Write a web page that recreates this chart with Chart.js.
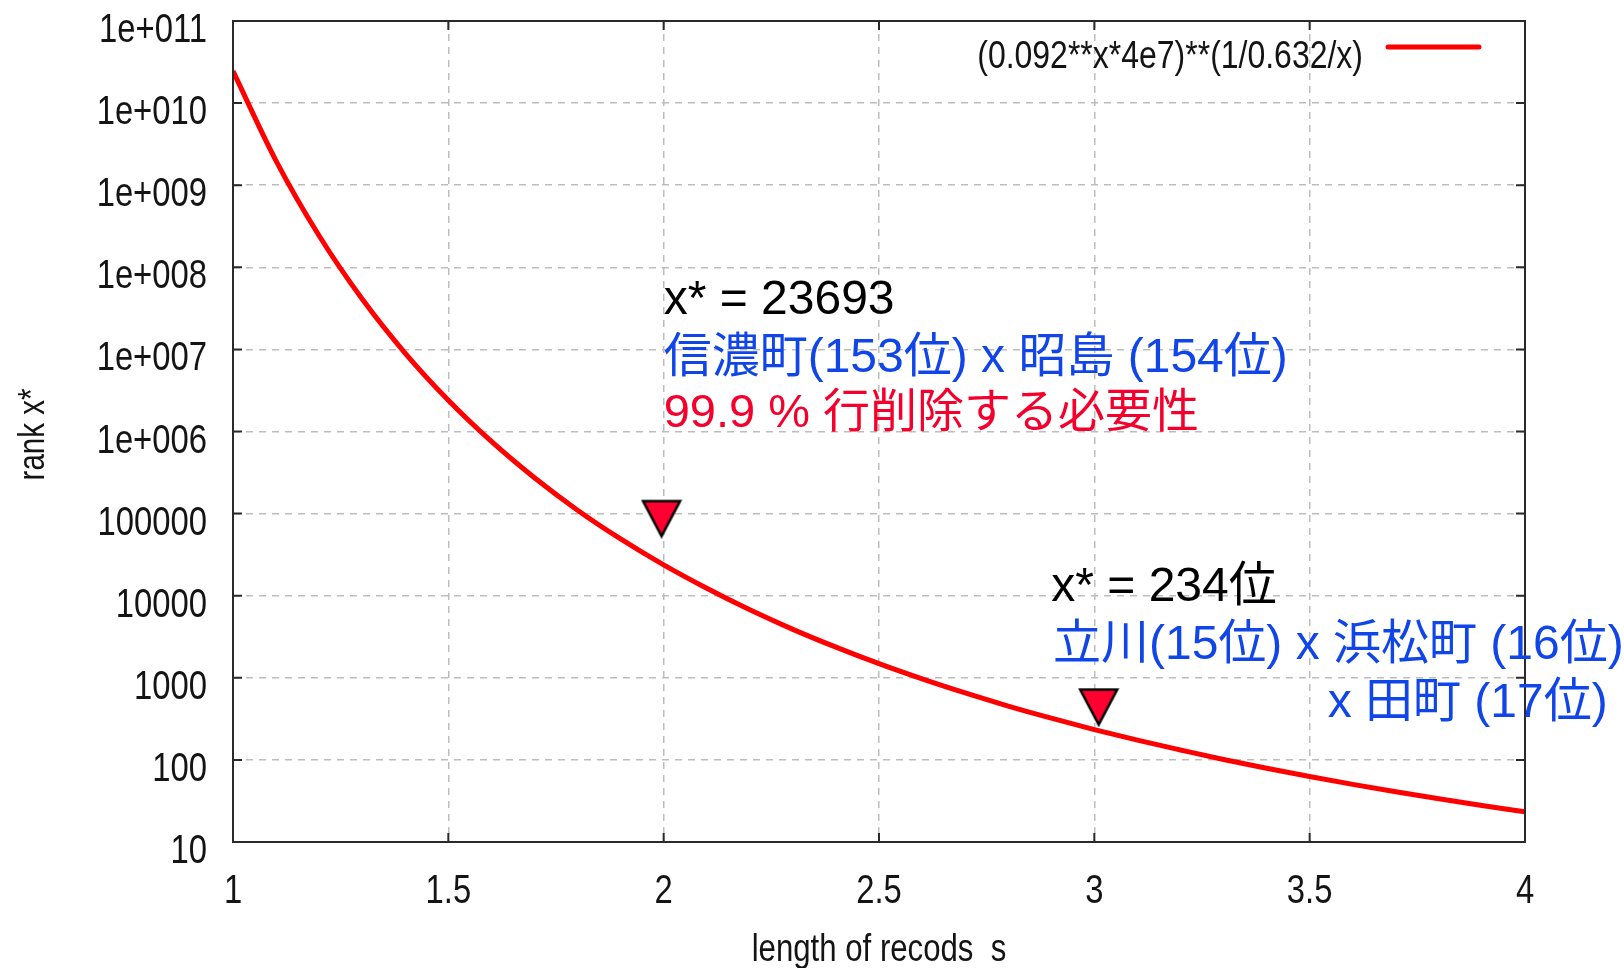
<!DOCTYPE html>
<html>
<head>
<meta charset="utf-8">
<script src="https://cdn.jsdelivr.net/npm/chart.js@4.4.1/dist/chart.umd.min.js"></script>
<style>
  html, body { margin: 0; padding: 0; background: #ffffff; }
  #wrap { width: 1624px; height: 968px; }
</style>
</head>
<body>
<div id="wrap"><canvas id="c" width="1624" height="968"></canvas></div>
<script>
// ---- data ----
const xValues = [1.0, 1.1, 1.2, 1.3, 1.4, 1.5, 1.6, 1.7, 1.8, 1.9,
                 2.0, 2.1, 2.2, 2.3, 2.4, 2.5, 2.6, 2.7, 2.8, 2.9,
                 3.0, 3.1, 3.2, 3.3, 3.4, 3.5, 3.6, 3.7, 3.8, 3.9, 4.0];
const rankValues = [2.45e10, 1.98e9, 2.42e8, 4.1e7, 8.96e6, 2.40e6, 7.56e5, 2.73e5, 1.10e5, 4.91e4,
                    2.37e4, 1.23e4, 6730, 3890, 2360, 1485, 970, 654, 453, 322,
                    234, 174, 132, 101, 79, 62.7, 50.3, 40.9, 33.6, 27.8, 23.3];
const markerX = [1.995, 3.01];
const markerY = [8.7e4, 440];
const seriesLabel = '(0.092**x*4e7)**(1/0.632/x)';
const xTickValues = [1, 1.5, 2, 2.5, 3, 3.5, 4];
const xTickLabels = ['1', '1.5', '2', '2.5', '3', '3.5', '4'];
const yTickValues = [10, 100, 1000, 10000, 100000, 1e6, 1e7, 1e8, 1e9, 1e10, 1e11];
const yTickLabels = ['10', '100', '1000', '10000', '100000', '1e+006', '1e+007', '1e+008', '1e+009', '1e+010', '1e+011'];
const xTitle = 'length of recods  s';
const yTitle = 'rank x*';
const noteTexts = [
  'x* = 23693',
  '信濃町(153位) x 昭島 (154位)',
  '99.9 % 行削除する必要性',
  'x* = 234位',
  '立川(15位) x 浜松町 (16位)',
  'x 田町 (17位)'
];

// ---- placement / styling ----
const notePlacement = [
  { x: 2.0,   y: 2.73e7, align: 'left',  color: '#000000', size: 48 },
  { x: 2.0,   y: 5.37e6, align: 'left',  color: '#1045e8', size: 48 },
  { x: 2.0,   y: 1.12e6, align: 'left',  color: '#f5002d', size: 47 },
  { x: 2.9,   y: 8560,   align: 'left',  color: '#000000', size: 48 },
  { x: 2.904, y: 1684,   align: 'left',  color: '#1045e8', size: 48 },
  { x: 4.192, y: 335,    align: 'right', color: '#1045e8', size: 48 }
];
const GP_FONT = "'Liberation Sans', Arial, sans-serif";
const SQUEEZE = 0.82;   // narrow look of the plot's own lettering
const NOTE_FAMILY = "'Liberation Sans', 'Noto Sans CJK JP', sans-serif";

function narrowText(ctx, text, x, y, size, align, rot) {
  ctx.save();
  ctx.translate(x, y);
  if (rot) ctx.rotate(rot);
  ctx.scale(SQUEEZE, 1);
  ctx.font = size + 'px ' + GP_FONT;
  ctx.textAlign = align;
  ctx.textBaseline = 'alphabetic';
  ctx.fillText(text, 0, 0);
  ctx.restore();
}

// triangle marker image
const tri = document.createElement('canvas');
tri.width = 42; tri.height = 40;
(function () {
  const g = tri.getContext('2d');
  g.beginPath();
  g.moveTo(2.5, 2.5); g.lineTo(39.5, 2.5); g.lineTo(21, 37.5); g.closePath();
  g.fillStyle = '#ff0030';
  g.fill();
  g.lineWidth = 2.5;
  g.strokeStyle = '#000000';
  g.stroke();
})();

const framePlugin = {
  id: 'frame',
  afterDatasetsDraw(chart) {
    const { ctx, chartArea: a, scales } = chart;
    ctx.save();
    ctx.strokeStyle = '#2a2a2a';
    ctx.lineWidth = 2;
    ctx.strokeRect(a.left, a.top, a.right - a.left, a.bottom - a.top);
    ctx.beginPath();
    const tl = 9;
    yTickValues.forEach(v => {
      const y = scales.y.getPixelForValue(v);
      ctx.moveTo(a.left, y); ctx.lineTo(a.left + tl, y);
      ctx.moveTo(a.right, y); ctx.lineTo(a.right - tl, y);
    });
    xTickValues.forEach(v => {
      const x = scales.x.getPixelForValue(v);
      ctx.moveTo(x, a.bottom); ctx.lineTo(x, a.bottom - tl);
      ctx.moveTo(x, a.top); ctx.lineTo(x, a.top + tl);
    });
    ctx.stroke();
    ctx.restore();
  },
  afterDraw(chart) {
    const { ctx, scales, chartArea: a } = chart;
    ctx.save();
    ctx.fillStyle = '#141414';
    // tick labels, placed through the scales
    yTickValues.forEach((v, i) => {
      narrowText(ctx, yTickLabels[i], a.left - 26, scales.y.getPixelForValue(v) + 21, 40, 'right');
    });
    xTickValues.forEach((v, i) => {
      narrowText(ctx, xTickLabels[i], scales.x.getPixelForValue(v), a.bottom + 61, 40, 'center');
    });
    // axis titles
    narrowText(ctx, xTitle, (a.left + a.right) / 2, 961, 38, 'center');
    narrowText(ctx, yTitle, 44, (a.top + a.bottom) / 2 + 3, 36, 'center', -Math.PI / 2);
    // legend (text then line sample on the right)
    const ds = chart.data.datasets[1];
    narrowText(ctx, ds.label, 1363, 68, 39, 'right');
    ctx.strokeStyle = ds.borderColor;
    ctx.lineWidth = 5;
    ctx.lineCap = 'round';
    ctx.beginPath();
    ctx.moveTo(1388, 47); ctx.lineTo(1479, 47);
    ctx.stroke();
    // annotations
    ctx.textBaseline = 'alphabetic';
    noteTexts.forEach((t, i) => {
      const p = notePlacement[i];
      ctx.font = p.size + 'px ' + NOTE_FAMILY;
      ctx.fillStyle = p.color;
      ctx.textAlign = p.align;
      ctx.fillText(t, scales.x.getPixelForValue(p.x), scales.y.getPixelForValue(p.y));
    });
    ctx.restore();
  }
};

new Chart(document.getElementById('c'), {
  type: 'line',
  data: {
    datasets: [
      {
        type: 'scatter',
        label: 'markers',
        data: markerX.map((x, i) => ({ x: x, y: markerY[i] })),
        pointStyle: tri,
        pointRadius: 20,
        pointHoverRadius: 20,
        showLine: false,
        order: 1
      },
      {
        label: seriesLabel,
        data: xValues.map((x, i) => ({ x: x, y: rankValues[i] })),
        borderColor: '#ff0000',
        borderWidth: 5,
        pointRadius: 0,
        fill: false,
        cubicInterpolationMode: 'monotone',
        order: 2
      }
    ]
  },
  options: {
    responsive: false,
    devicePixelRatio: 1,
    animation: false,
    events: [],
    layout: { padding: { left: 0, top: 20, right: 99, bottom: 0 } },
    plugins: { legend: { display: false }, tooltip: { enabled: false } },
    scales: {
      x: {
        type: 'linear',
        min: 1, max: 4,
        afterBuildTicks(scale) { scale.ticks = xTickValues.map(v => ({ value: v })); },
        afterFit(scale) { scale.height = 126; scale.paddingLeft = 0; scale.paddingRight = 0; },
        ticks: { display: false, autoSkip: false, maxRotation: 0 },
        grid: { color: '#bdbdbd', lineWidth: 1.5, drawTicks: false },
        border: { display: false, dash: [7, 6] },
        title: { display: false }
      },
      y: {
        type: 'logarithmic',
        min: 10, max: 1e11,
        afterBuildTicks(scale) { scale.ticks = yTickValues.map(v => ({ value: v })); },
        afterFit(scale) { scale.width = 233; scale.paddingTop = 0; scale.paddingBottom = 0; },
        ticks: { display: false, autoSkip: false },
        grid: { color: '#bdbdbd', lineWidth: 1.5, drawTicks: false },
        border: { display: false, dash: [7, 6] },
        title: { display: false }
      }
    }
  },
  plugins: [framePlugin]
});
</script>
</body>
</html>
